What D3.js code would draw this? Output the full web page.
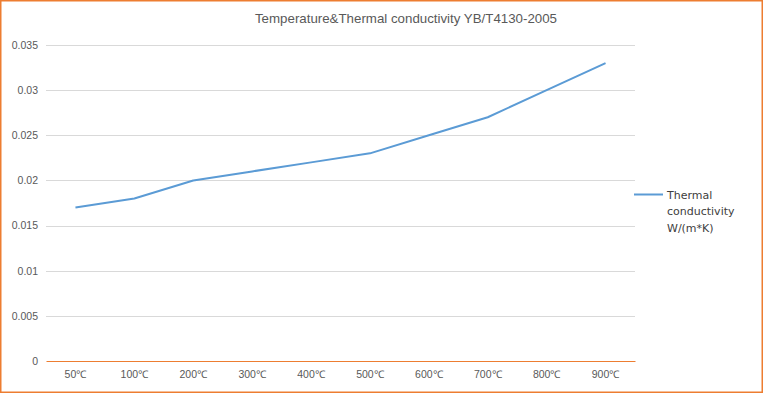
<!DOCTYPE html>
<html>
<head>
<meta charset="utf-8">
<script src="https://cdn.jsdelivr.net/npm/d3@7"></script>
<style>
  body { margin: 0; background: #fff; }
  svg { display: block; }
</style>
</head>
<body>
<div id="chart"></div>
<script>
// data
const categories = ["50℃", "100℃", "200℃", "300℃", "400℃", "500℃", "600℃", "700℃", "800℃", "900℃"];
const conductivity = [0.017, 0.018, 0.020, 0.021, 0.022, 0.023, 0.025, 0.027, 0.030, 0.033];
const yTicks = [0, 0.005, 0.01, 0.015, 0.02, 0.025, 0.03, 0.035];
const titleText = "Temperature&Thermal conductivity YB/T4130-2005";
const legendLines = ["Thermal", "conductivity", "W/(m*K)"];

const W = 764, H = 394;
const margin = { top: 45, right: 129, bottom: 33, left: 46 };
const width = W - margin.left - margin.right;
const height = H - margin.top - margin.bottom;

const svg = d3.select("#chart").append("svg")
  .attr("width", W)
  .attr("height", H);

// outer border
svg.append("rect")
  .attr("x", 0.75).attr("y", 0.75)
  .attr("width", W - 2.5).attr("height", H - 2.5)
  .attr("fill", "#fff")
  .attr("stroke", "#ED7D31")
  .attr("stroke-width", 1.5);

svg.append("text")
  .attr("x", 406).attr("y", 23)
  .attr("text-anchor", "middle")
  .attr("font-family", "Liberation Sans, Arial, sans-serif")
  .attr("font-size", 13.3)
  .attr("fill", "#595959")
  .text(titleText);

const g = svg.append("g")
  .attr("transform", `translate(${margin.left},${margin.top})`);

const x = d3.scaleBand().domain(categories).range([0, width]);
const y = d3.scaleLinear().domain([0, 0.035]).range([height, 0]);

// gridlines
g.selectAll(".grid")
  .data(yTicks.filter(t => t > 0))
  .enter().append("line")
  .attr("class", "grid")
  .attr("x1", 0).attr("x2", width)
  .attr("y1", d => Math.round(y(d)) + 0.5)
  .attr("y2", d => Math.round(y(d)) + 0.5)
  .attr("stroke", "#D9D9D9")
  .attr("stroke-width", 1);

// y axis labels
const yAxis = g.append("g")
  .call(d3.axisLeft(y).tickValues(yTicks).tickSize(0).tickPadding(8)
    .tickFormat(d => d === 0 ? "0" : String(+d.toFixed(3))));
yAxis.select(".domain").remove();
yAxis.selectAll("text")
  .attr("font-family", "Liberation Sans, Arial, sans-serif")
  .attr("font-size", 10.5)
  .attr("fill", "#595959");

// x axis
const xAxis = g.append("g")
  .attr("transform", `translate(0,${height})`)
  .call(d3.axisBottom(x).tickSize(0).tickPadding(10));
xAxis.select(".domain")
  .attr("stroke", "#ED7D31")
  .attr("stroke-width", 1);
xAxis.selectAll("text")
  .attr("font-family", "Liberation Sans, Arial, sans-serif")
  .attr("font-size", 10.5)
  .attr("fill", "#595959");

// line
const line = d3.line()
  .x((d, i) => x(categories[i]) + x.bandwidth() / 2)
  .y(d => y(d));

g.append("path")
  .datum(conductivity)
  .attr("fill", "none")
  .attr("stroke", "#5B9BD5")
  .attr("stroke-width", 2)
  .attr("stroke-linejoin", "round")
  .attr("d", line);

// legend
const legend = svg.append("g").attr("transform", "translate(634,194.5)");
legend.append("line")
  .attr("x1", 0).attr("x2", 29)
  .attr("y1", 0).attr("y2", 0)
  .attr("stroke", "#5B9BD5")
  .attr("stroke-width", 2);
legend.append("text")
  .attr("x", 33).attr("y", 4)
  .attr("font-family", "DejaVu Sans, Verdana, sans-serif")
  .attr("font-size", 11)
  .attr("fill", "#404040")
  .selectAll("tspan")
  .data(legendLines)
  .enter().append("tspan")
  .attr("x", 33)
  .attr("dy", (d, i) => i === 0 ? 0 : 16.5)
  .text(d => d);
</script>
</body>
</html>
